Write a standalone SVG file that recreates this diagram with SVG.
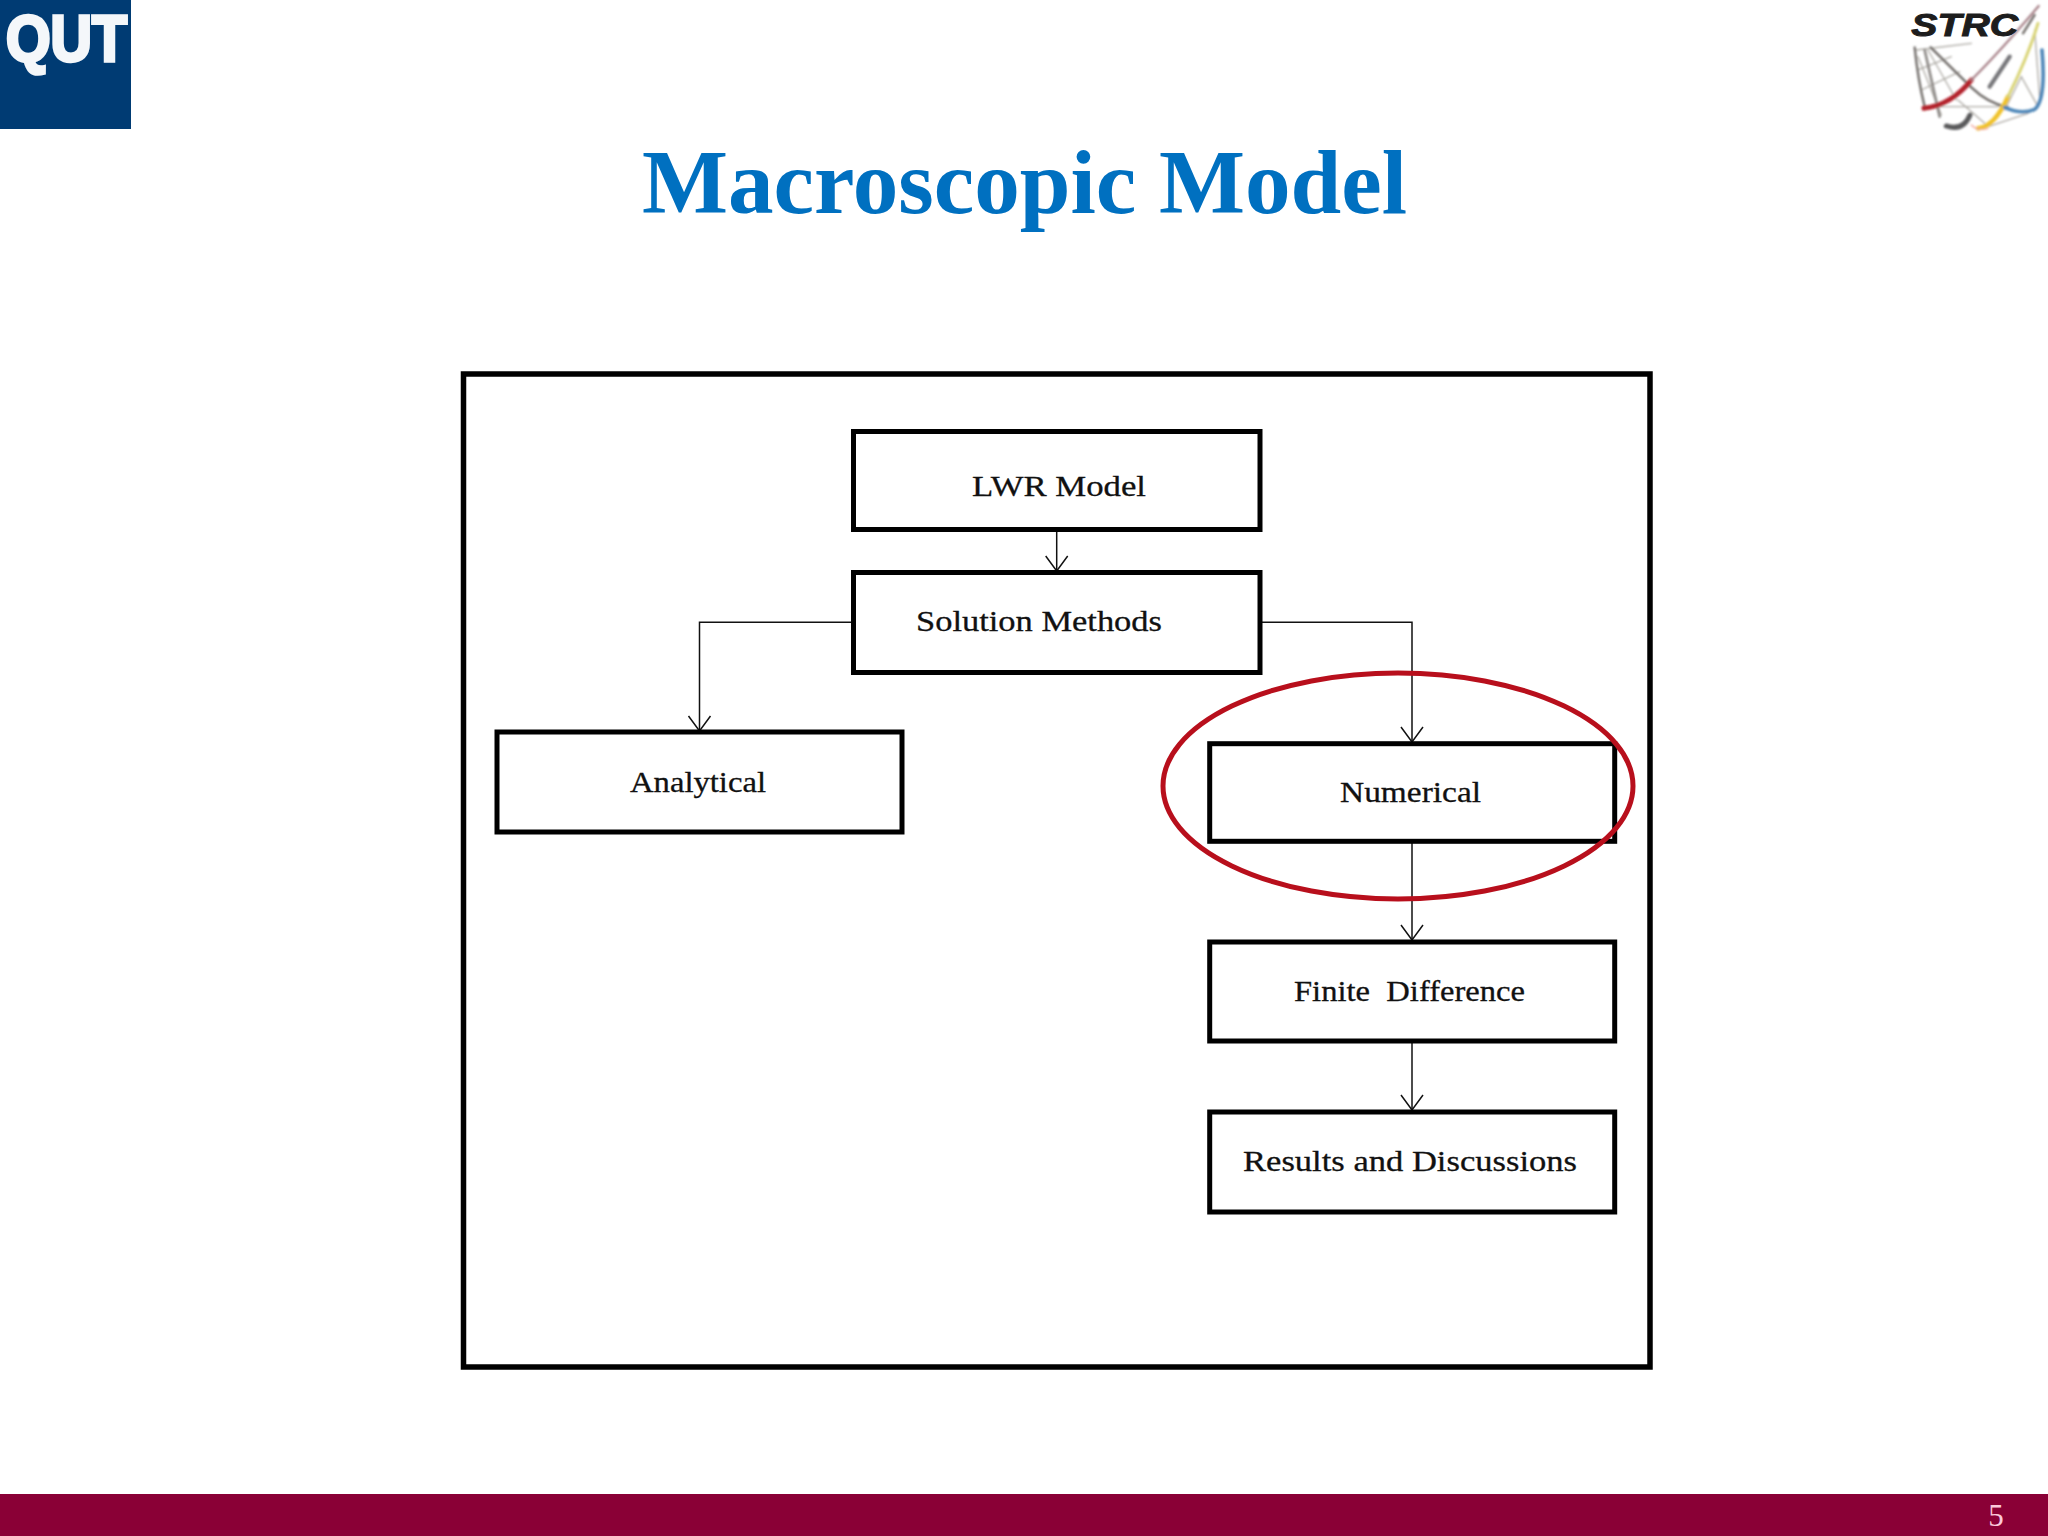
<svg xmlns="http://www.w3.org/2000/svg" width="2048" height="1536" viewBox="0 0 2048 1536">
<style>
.box{fill:#fff;stroke:#000;stroke-width:5}
.lbl{font-family:"Liberation Serif","Times New Roman",serif;font-size:30px;fill:#111;stroke:#111;stroke-width:.3}
.con{fill:none;stroke:#111;stroke-width:1.5}
.head{fill:none;stroke:#111;stroke-width:1.5}
.m{fill:none;stroke-linecap:round}
</style>
<defs>
<filter id="soft" x="-5%" y="-5%" width="110%" height="110%"><feGaussianBlur stdDeviation="2.4"/></filter>
<filter id="soft2" x="-5%" y="-5%" width="110%" height="110%"><feGaussianBlur stdDeviation="0.7"/></filter>
<path id="ah" class="head" d="M-11,-15 L0,0 L11,-15"/>
</defs>
<rect width="2048" height="1536" fill="#fff"/>
<g id="qut-logo">
<rect x="0" y="0" width="131" height="129" fill="#003b73"/>
<text x="6" y="61" font-family="'Liberation Sans',Arial,sans-serif" font-weight="700" font-size="64" fill="#f4f7fa" stroke="#f4f7fa" stroke-width="3.500" textLength="121" lengthAdjust="spacingAndGlyphs" filter="url(#soft2)">QUT</text>
</g>
<g id="strc-logo" transform="translate(1888,0) scale(.3333)">
<g filter="url(#soft)">
<g class="m" stroke="#aeaba5" stroke-width="4">
<path d="M85,150 L250,130 M90,210 L190,170 M100,270 L215,215 M120,150 L205,300 M90,170 L160,345 M150,320 L330,320 M210,300 L290,370 M350,330 L400,230 L450,320 M440,90 L455,290 M300,380 L420,340"/>
</g>
<path class="m" stroke="#6f6b67" stroke-width="7" d="M80,142 Q90,240 110,320 M128,142 L250,262 Q300,310 360,322 M405,100 L440,45"/>
<path class="m" stroke="#8d8986" stroke-width="8" d="M110,150 L155,350"/>
<path class="m" stroke="#77777a" stroke-width="13" d="M305,260 L365,170"/>
<path class="m" stroke="#5a5a5c" stroke-width="15" d="M175,378 Q225,395 246,345"/>
<path class="m" stroke="#b3202c" stroke-width="15" d="M108,325 Q190,315 250,240"/>
<path class="m" stroke="#a8838a" stroke-width="7" d="M250,240 Q340,150 452,18"/>
<path class="m" stroke="#f0c22a" stroke-width="14" d="M270,385 Q320,380 360,290"/>
<path class="m" stroke="#d9d476" stroke-width="9" d="M360,290 Q420,170 450,70"/>
<path class="m" stroke="#4e86b8" stroke-width="11" d="M462,150 Q475,300 440,328 Q400,345 350,322"/>
<path class="m" stroke="#f2a8a0" stroke-width="4" d="M250,375 Q270,395 300,385"/>
</g>
<text x="70" y="107" font-family="'Liberation Sans',Arial,sans-serif" font-style="italic" font-weight="700" font-size="96" fill="#1d1d1d" stroke="#1d1d1d" stroke-width="3" textLength="320" lengthAdjust="spacingAndGlyphs">STRC</text>
</g>
<text id="title" x="642" y="213" font-family="'Liberation Serif','Times New Roman',serif" font-weight="700" font-size="90" fill="#0070c0" textLength="765" lengthAdjust="spacingAndGlyphs">Macroscopic Model</text>
<g id="frame"><rect x="463.500" y="374" width="1186.500" height="993" fill="#fff" stroke="#000" stroke-width="5.500"/></g>
<g id="connectors">
<path class="con" d="M1056.7,530 V571"/>
<path class="con" d="M853,622.2 H699.5 V731"/>
<path class="con" d="M1260,622.2 H1412 V742"/>
<path class="con" d="M1412,842 V941"/>
<path class="con" d="M1412,1042 V1110"/>
<use href="#ah" x="1056.7" y="571"/>
<use href="#ah" x="699.5" y="731"/>
<use href="#ah" x="1412" y="742"/>
<use href="#ah" x="1412" y="940"/>
<use href="#ah" x="1412" y="1110"/>
</g>
<g id="lwr"><rect class="box" x="853.5" y="431.5" width="406.500" height="98"/><text class="lbl" x="972" y="496" textLength="174" lengthAdjust="spacingAndGlyphs">LWR Model</text></g>
<g id="solution"><rect class="box" x="853.500" y="572.5" width="406.500" height="100"/><text class="lbl" x="916" y="631" textLength="246" lengthAdjust="spacingAndGlyphs">Solution Methods</text></g>
<g id="analytical"><rect class="box" x="497" y="732" width="405" height="100"/><text class="lbl" x="630" y="792" textLength="136" lengthAdjust="spacingAndGlyphs">Analytical</text></g>
<g id="numerical"><rect class="box" x="1209.700" y="743.700" width="405" height="97.600"/><text class="lbl" x="1340" y="802" textLength="141" lengthAdjust="spacingAndGlyphs">Numerical</text></g>
<g id="finite"><rect class="box" x="1209.700" y="942" width="405" height="99"/><text class="lbl" x="1294" y="1001" textLength="231" lengthAdjust="spacingAndGlyphs" xml:space="preserve">Finite  Difference</text></g>
<g id="results"><rect class="box" x="1209.700" y="1112" width="405" height="100"/><text class="lbl" x="1243" y="1171" textLength="334" lengthAdjust="spacingAndGlyphs">Results and Discussions</text></g>
<g id="highlight"><ellipse cx="1398" cy="786" rx="235" ry="113" fill="none" stroke="#b80f1c" stroke-width="5"/></g>
<g id="footer">
<rect x="0" y="1494" width="2048" height="42" fill="#8a0036"/>
<text x="1996" y="1526" text-anchor="middle" font-family="'Liberation Serif','Times New Roman',serif" font-size="31" fill="#fbc8da">5</text>
</g>
</svg>
